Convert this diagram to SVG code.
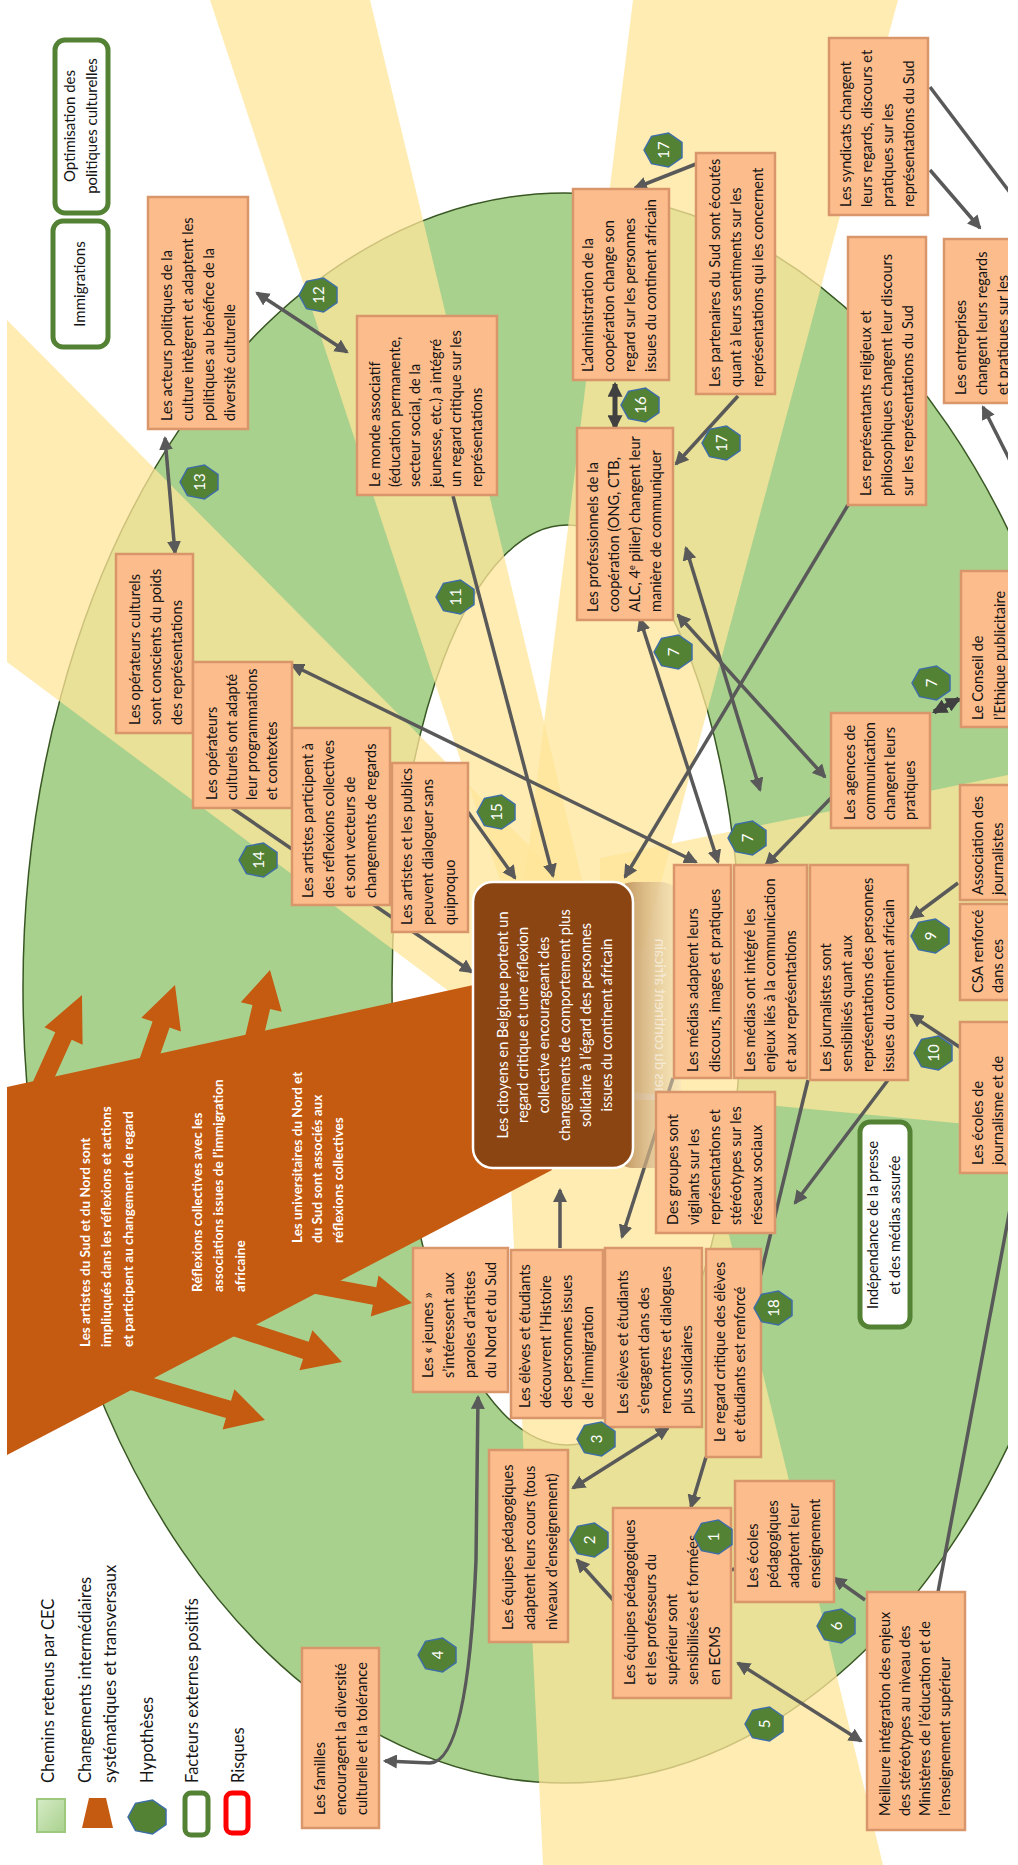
<svg xmlns="http://www.w3.org/2000/svg" width="1018" height="1865" viewBox="0 0 1018 1865">
<defs>
<style>
.box{fill:#FDBC8C;stroke:#D9966B;stroke-width:2.5}
.t{font-family:Lato,"Liberation Sans",sans-serif;font-size:14.5px;fill:#141414}
.tw{fill:#fff}
.ob{font-family:Lato,"Liberation Sans",sans-serif;font-size:13.5px;font-weight:700;fill:#fff}
.lg{font-family:Lato,"Liberation Sans",sans-serif;font-size:16.5px;fill:#141414}
.con{fill:none;stroke:#595959;stroke-width:3.5}
.thick{stroke:#404040;stroke-width:5}
.ea{marker-end:url(#ah)}
.sa{marker-start:url(#ah)}
.eat{marker-end:url(#aht)}
.sat{marker-start:url(#aht)}
.hx{fill:#548235;stroke:#3E6EA6;stroke-width:1.5}
.hn{font-family:Lato,"Liberation Sans",sans-serif;font-size:15px;fill:#fff;text-anchor:middle}
.gb{fill:#fff;stroke:#548235;stroke-width:5}
.beam{fill:#FFE699;opacity:0.75}
.or{fill:#C55A11}
.mid{text-anchor:middle}
</style>
<marker id="ah" viewBox="0 0 10 10" refX="8.5" refY="5" markerWidth="4" markerHeight="4" orient="auto-start-reverse"><path d="M0,0 L10,5 L0,10 z" fill="#595959"/></marker>
<marker id="aht" viewBox="0 0 10 10" refX="8.5" refY="5" markerWidth="3" markerHeight="3" orient="auto-start-reverse"><path d="M0,0 L10,5 L0,10 z" fill="#404040"/></marker>
<polygon id="hept" points="-19,0 -11.5,-13.7 5.5,-17 19,-7.6 19,7.6 5.5,17 -11.5,13.7"/>
<linearGradient id="refl" x1="0" y1="0" x2="1" y2="0"><stop offset="0" stop-color="#B07D45" stop-opacity="0.95"/><stop offset="1" stop-color="#F3E2BE" stop-opacity="0.5"/></linearGradient>
<linearGradient id="lgsq" x1="0" y1="0" x2="1" y2="1"><stop offset="0" stop-color="#D6EBC6"/><stop offset="1" stop-color="#A9D18E"/></linearGradient>
<clipPath id="clip"><rect x="7" y="0" width="1001" height="1865"/></clipPath>
</defs>
<rect width="1018" height="1865" fill="#fff"/>
<g clip-path="url(#clip)">
<g id="background">
<ellipse cx="565" cy="988" rx="542" ry="795" fill="#A9D18E" stroke="#385723" stroke-width="1.5"/>
<ellipse cx="567" cy="985" rx="175" ry="460" fill="#fff" stroke="#385723" stroke-width="1.5"/>
<polygon class="beam" points="7,320 560,877 560,1074 7,662"/>
<polygon class="beam" points="210,0 370,0 599,950 523,950"/>
<polygon class="beam" points="633,0 898,0 643,950 516,950"/>
<polygon class="beam" points="600,858 1018,773 1018,1129 600,1089"/>
<polygon class="beam" points="507,1100 696,1100 883,1865 543,1865"/>
</g>
<g id="transversal">
<polygon class="or" points="7,1087 478,984 552,1170 7,1455"/>
<polygon class="or" points="38.2,1113.7 71.7,1039.7 82.6,1044.7 82,995 44.4,1027.3 55.3,1032.3 21.8,1106.3"/>
<polygon class="or" points="148.5,1088 169.6,1027.6 180.9,1031.5 175,985 141.3,1017.7 152.6,1021.6 131.5,1082"/>
<polygon class="or" points="258.8,1057.1 270.1,1009.1 281.8,1011.8 270,970 240.8,1002.2 252.5,1004.9 241.2,1052.9"/>
<polygon class="or" points="298.3,1290.8 372.9,1304.8 370.7,1316.6 412,1303 378.5,1275.4 376.3,1287.2 301.7,1273.2"/>
<polygon class="or" points="215.6,1330.6 303.1,1358.9 299.4,1370.3 342,1362 312.4,1330.3 308.7,1341.7 221.2,1313.4"/>
<polygon class="or" points="108.9,1383.8 226,1418 222.6,1429.6 265,1420 234.4,1389.2 231,1400.8 113.9,1366.6"/>
<text class="ob" transform="translate(89.5,1347) rotate(-90)"><tspan x="0">Les artistes du Sud et du Nord sont</tspan><tspan x="0" dy="21.5">impliuqués  dans les réflexions et  actions</tspan><tspan x="0" dy="21.5">et participent au changement de regard</tspan></text>
<text class="ob" transform="translate(201.5,1292) rotate(-90)"><tspan x="0">Réflexions collectives avec les</tspan><tspan x="0" dy="21.5">associations issues  de l’immigration</tspan><tspan x="0" dy="21.5">africaine</tspan></text>
<text class="ob" transform="translate(301.5,1243) rotate(-90)"><tspan x="0">Les universitaires du  Nord et</tspan><tspan x="0" dy="20.5">du Sud sont  associés  aux</tspan><tspan x="0" dy="20.5">réflexions collectives</tspan></text>
</g>
<g id="connectors">
<path class="con ea sa" d="M257,293 L347,352"/>
<path class="con ea sa" d="M165,438 L175,553"/>
<path class="con ea" d="M453,496 L553,876"/>
<path class="con ea" d="M232,808 L472,972"/>
<path class="con ea" d="M468,812 L515,878"/>
<path class="con ea sa" d="M292,665 L696,862"/>
<path class="con thick eat sat" d="M615,384 L615,428"/>
<path class="con ea" d="M696,164 L635,188"/>
<path class="con ea" d="M738,396 L676,464"/>
<path class="con ea sa" d="M640,619 L718,862"/>
<path class="con ea" d="M848,505 L625,877"/>
<path class="con ea sa" d="M686,548 L760,790"/>
<path class="con ea sa" d="M678,615 L825,777"/>
<path class="con ea" d="M831,798 L766,865"/>
<path class="con thick eat sat" d="M934,712 L959,699"/>
<path class="con ea" d="M958,883 L911,918"/>
<path class="con ea" d="M961,1048 L911,1015"/>
<path class="con ea" d="M888,1080 L795,1203"/>
<path class="con" d="M808,1080 L757,1290"/>
<path class="con ea" d="M673,1078 L622,1237"/>
<path class="con ea" d="M560,1248 L560,1190"/>
<path class="con ea sa" d="M478,1397 L476,1560 Q468,1762 430,1763 L385,1761"/>
<path class="con ea sa" d="M573,1488 L668,1428"/>
<path class="con ea" d="M615,1602 L577,1560"/>
<path class="con ea" d="M706,1457 L691,1507"/>
<path class="con ea" d="M738,1568 L706,1577"/>
<path class="con ea" d="M865,1600 L834,1578"/>
<path class="con ea sa" d="M738,1663 L861,1741"/>
<path class="con" d="M938,1592 L1040,1050"/>
<path class="con" d="M930,87 L1040,232"/>
<path class="con ea" d="M930,170 L980,228"/>
<path class="con ea" d="M1040,520 L983,407"/>
</g>
<g id="n-reflet">
<rect x="613" y="882" width="68" height="286" rx="20" fill="url(#refl)"/>
<g transform="translate(1266,0) scale(-1,1)" opacity="0.55"><text class="t tw mid" transform="translate(611.5,1025) rotate(-90)">issues du  continent africain</text></g>
</g>
<g id="n-central">
<rect x="473" y="882" width="160" height="286" rx="20" fill="#8B4513" stroke="#fff" stroke-width="2.5"/>
<text class="t tw mid" transform="translate(507.5,1025) rotate(-90)"><tspan x="0">Les citoyens en Belgique portent un</tspan><tspan x="0" dy="20.8">regard critique et une réflexion</tspan><tspan x="0" dy="20.8">collective encourageant des</tspan><tspan x="0" dy="20.8">changements  de comportement  plus</tspan><tspan x="0" dy="20.8">solidaire à l’égard des personnes</tspan><tspan x="0" dy="20.8">issues du  continent africain</tspan></text>
</g>
<g id="n-optimisation"><rect class="gb" x="55" y="40" width="53" height="173" rx="10"/><text class="t mid" transform="translate(74.5,126) rotate(-90)" style="font-size:15px"><tspan x="0">Optimisation des</tspan><tspan x="0" dy="22">politiques culturelles</tspan></text></g>
<g id="n-immigrations"><rect class="gb" x="53" y="221" width="55" height="126" rx="10"/><text class="t mid" transform="translate(85,284) rotate(-90)" style="font-size:15px">Immigrations</text></g>
<g id="n-independance"><rect class="gb" x="860" y="1122" width="50" height="205" rx="10"/><text class="t mid" transform="translate(877.5,1225) rotate(-90)"><tspan x="0">Indépendance  de la presse</tspan><tspan x="0" dy="22">et des médias assurée</tspan></text></g>
<g id="n-acteurs"><rect class="box" x="148" y="197" width="100" height="232"/><text class="t" transform="translate(171.5,421) rotate(-90)"><tspan x="0">Les acteurs politiques de la</tspan><tspan x="0" dy="21">culture intègrent  et adaptent  les</tspan><tspan x="0" dy="21">politiques au bénéfice  de la</tspan><tspan x="0" dy="21">diversité culturelle</tspan></text></g>
<g id="n-monde"><rect class="box" x="357" y="316" width="140" height="179"/><text class="t" transform="translate(379.5,487) rotate(-90)"><tspan x="0">Le monde associatif</tspan><tspan x="0" dy="20.4">(éducation permanente,</tspan><tspan x="0" dy="20.4">secteur social, de la</tspan><tspan x="0" dy="20.4">jeunesse, etc.)  a intégré</tspan><tspan x="0" dy="20.4">un regard critique sur les</tspan><tspan x="0" dy="20.4">représentations</tspan></text></g>
<g id="n-administration"><rect class="box" x="573" y="189" width="96" height="191"/><text class="t" transform="translate(592.5,372) rotate(-90)"><tspan x="0">L’administration de la</tspan><tspan x="0" dy="21.3">coopération change son</tspan><tspan x="0" dy="21.3">regard sur les personnes</tspan><tspan x="0" dy="21.3">issues du  continent africain</tspan></text></g>
<g id="n-professionnels"><rect class="box" x="577" y="428" width="96" height="192"/><text class="t" transform="translate(597.5,612) rotate(-90)"><tspan x="0">Les professionnels  de la</tspan><tspan x="0" dy="21.3">coopération (ONG, CTB,</tspan><tspan x="0" dy="21.3">ALC, 4<tspan baseline-shift="super" font-size="9">e</tspan> pilier) changent leur</tspan><tspan x="0" dy="21.3">manière de communiquer</tspan></text></g>
<g id="n-partenaires"><rect class="box" x="696" y="153" width="79" height="241"/><text class="t" transform="translate(719.5,387) rotate(-90)"><tspan x="0">Les partenaires du Sud sont écoutés</tspan><tspan x="0" dy="21.5">quant à leurs sentiments sur les</tspan><tspan x="0" dy="21.5">représentations qui les concernent</tspan></text></g>
<g id="n-syndicats"><rect class="box" x="829" y="38" width="99" height="177"/><text class="t" transform="translate(850.5,207) rotate(-90)"><tspan x="0">Les syndicats changent</tspan><tspan x="0" dy="21.3">leurs regards, discours et</tspan><tspan x="0" dy="21.3">pratiques sur les</tspan><tspan x="0" dy="21.3">représentations du Sud</tspan></text></g>
<g id="n-religieux"><rect class="box" x="848" y="237" width="78" height="268"/><text class="t" transform="translate(870.5,496) rotate(-90)"><tspan x="0">Les représentants religieux et</tspan><tspan x="0" dy="21">philosophiques  changent leur discours</tspan><tspan x="0" dy="21">sur les représentations du Sud</tspan></text></g>
<g id="n-entreprises"><rect class="box" x="944" y="239" width="90" height="164"/><text class="t" transform="translate(965.5,395) rotate(-90)"><tspan x="0">Les entreprises</tspan><tspan x="0" dy="21">changent leurs regards</tspan><tspan x="0" dy="21">et pratiques sur les</tspan></text></g>
<g id="n-conseil"><rect class="box" x="961" y="571" width="70" height="156"/><text class="t" transform="translate(982.5,720) rotate(-90)"><tspan x="0">Le Conseil  de</tspan><tspan x="0" dy="22">l’Ethique publicitaire</tspan></text></g>
<g id="n-association"><rect class="box" x="960" y="785" width="70" height="115"/><text class="t" transform="translate(982.5,895) rotate(-90)"><tspan x="0">Association des</tspan><tspan x="0" dy="20">journalistes</tspan></text></g>
<g id="n-csa"><rect class="box" x="960" y="904" width="70" height="96"/><text class="t" transform="translate(982.5,993) rotate(-90)"><tspan x="0">CSA renforcé</tspan><tspan x="0" dy="20">dans ces</tspan></text></g>
<g id="n-ecoles-journalisme"><rect class="box" x="960" y="1022" width="70" height="151"/><text class="t" transform="translate(982.5,1165) rotate(-90)"><tspan x="0">Les écoles  de</tspan><tspan x="0" dy="20">journalisme et de</tspan></text></g>
<g id="n-agences"><rect class="box" x="831" y="713" width="99" height="115"/><text class="t" transform="translate(854.5,820) rotate(-90)"><tspan x="0">Les agences de</tspan><tspan x="0" dy="20.3">communication</tspan><tspan x="0" dy="20.3">changent leurs</tspan><tspan x="0" dy="20.3">pratiques</tspan></text></g>
<g id="n-operateurs-conscients"><rect class="box" x="116" y="554" width="77" height="179"/><text class="t" transform="translate(139.5,725) rotate(-90)"><tspan x="0">Les opérateurs culturels</tspan><tspan x="0" dy="21">sont conscients du poids</tspan><tspan x="0" dy="21">des représentations</tspan></text></g>
<g id="n-operateurs-adapte"><rect class="box" x="193" y="662" width="99" height="146"/><text class="t" transform="translate(216.5,800) rotate(-90)"><tspan x="0">Les opérateurs</tspan><tspan x="0" dy="20.3">culturels ont adapté</tspan><tspan x="0" dy="20.3">leur programmations</tspan><tspan x="0" dy="20.3">et contextes</tspan></text></g>
<g id="n-artistes-participent"><rect class="box" x="292" y="728" width="98" height="177"/><text class="t" transform="translate(312.5,898) rotate(-90)"><tspan x="0">Les artistes participent à</tspan><tspan x="0" dy="21.3">des réflexions collectives</tspan><tspan x="0" dy="21.3">et sont vecteurs de</tspan><tspan x="0" dy="21.3">changements  de regards</tspan></text></g>
<g id="n-artistes-publics"><rect class="box" x="392" y="763" width="76" height="169"/><text class="t" transform="translate(411.5,925) rotate(-90)"><tspan x="0">Les artistes et les publics</tspan><tspan x="0" dy="21.5">peuvent dialoguer sans</tspan><tspan x="0" dy="21.5">quiproquo</tspan></text></g>
<g id="n-medias-adaptent"><rect class="box" x="674" y="865" width="57" height="213"/><text class="t" transform="translate(697.5,1072) rotate(-90)"><tspan x="0">Les médias  adaptent leurs</tspan><tspan x="0" dy="22">discours,  images et pratiques</tspan></text></g>
<g id="n-medias-integre"><rect class="box" x="734" y="865" width="73" height="213"/><text class="t" transform="translate(754.5,1072) rotate(-90)"><tspan x="0">Les médias  ont intégré les</tspan><tspan x="0" dy="20.5">enjeux liés à la communication</tspan><tspan x="0" dy="20.5">et aux représentations</tspan></text></g>
<g id="n-journalistes"><rect class="box" x="810" y="865" width="98" height="215"/><text class="t" transform="translate(830.5,1072) rotate(-90)"><tspan x="0">Les journalistes sont</tspan><tspan x="0" dy="21.3">sensibilisés quant aux</tspan><tspan x="0" dy="21.3">représentations des personnes</tspan><tspan x="0" dy="21.3">issues du  continent africain</tspan></text></g>
<g id="n-groupes"><rect class="box" x="656" y="1092" width="119" height="141"/><text class="t" transform="translate(677.5,1225) rotate(-90)"><tspan x="0">Des groupes sont</tspan><tspan x="0" dy="21">vigilants sur les</tspan><tspan x="0" dy="21">représentations et</tspan><tspan x="0" dy="21">stéréotypes sur les</tspan><tspan x="0" dy="21">réseaux sociaux</tspan></text></g>
<g id="n-jeunes"><rect class="box" x="413" y="1248" width="95" height="144"/><text class="t" transform="translate(432.5,1378) rotate(-90)"><tspan x="0">Les « jeunes »</tspan><tspan x="0" dy="21.3">s’intéressent aux</tspan><tspan x="0" dy="21.3">paroles d’artistes</tspan><tspan x="0" dy="21.3">du Nord et du Sud</tspan></text></g>
<g id="n-eleves-decouvrent"><rect class="box" x="511" y="1250" width="92" height="168"/><text class="t" transform="translate(529.5,1408) rotate(-90)"><tspan x="0">Les élèves et étudiants</tspan><tspan x="0" dy="21">découvrent l’Histoire</tspan><tspan x="0" dy="21">des personnes issues</tspan><tspan x="0" dy="21">de l’immigration</tspan></text></g>
<g id="n-eleves-engagent"><rect class="box" x="605" y="1248" width="97" height="179"/><text class="t" transform="translate(627.5,1414) rotate(-90)"><tspan x="0">Les élèves et étudiants</tspan><tspan x="0" dy="21.5">s’engagent dans des</tspan><tspan x="0" dy="21.5">rencontres et dialogues</tspan><tspan x="0" dy="21.5">plus solidaires</tspan></text></g>
<g id="n-regard"><rect class="box" x="706" y="1249" width="55" height="208"/><text class="t" transform="translate(724.5,1442) rotate(-90)"><tspan x="0">Le regard critique des élèves</tspan><tspan x="0" dy="20">et étudiants est renforcé</tspan></text></g>
<g id="n-familles"><rect class="box" x="302" y="1648" width="77" height="180"/><text class="t" transform="translate(324.5,1815) rotate(-90)"><tspan x="0">Les familles</tspan><tspan x="0" dy="21">encouragent la diversité</tspan><tspan x="0" dy="21">culturelle et la tolérance</tspan></text></g>
<g id="n-equipes-cours"><rect class="box" x="489" y="1450" width="79" height="192"/><text class="t" transform="translate(512.5,1630) rotate(-90)"><tspan x="0">Les équipes  pédagogiques</tspan><tspan x="0" dy="22">adaptent leurs cours (tous</tspan><tspan x="0" dy="22">niveaux d’enseignement)</tspan></text></g>
<g id="n-equipes-profs"><rect class="box" x="613" y="1508" width="118" height="190"/><text class="t" transform="translate(634.5,1685) rotate(-90)"><tspan x="0">Les équipes pédagogiques</tspan><tspan x="0" dy="21.3">et les professeurs du</tspan><tspan x="0" dy="21.3">supérieur sont</tspan><tspan x="0" dy="21.3">sensibilisées et formées</tspan><tspan x="0" dy="21.3">en ECMS</tspan></text></g>
<g id="n-ecoles-peda"><rect class="box" x="735" y="1481" width="99" height="121"/><text class="t" transform="translate(757.5,1588) rotate(-90)"><tspan x="0">Les écoles</tspan><tspan x="0" dy="20.7">pédagogiques</tspan><tspan x="0" dy="20.7">adaptent leur</tspan><tspan x="0" dy="20.7">enseignement</tspan></text></g>
<g id="n-meilleure"><rect class="box" x="867" y="1592" width="98" height="238"/><text class="t" transform="translate(889.5,1816) rotate(-90)"><tspan x="0">Meilleure intégration des enjeux</tspan><tspan x="0" dy="20.3">des stéréotypes au niveau des</tspan><tspan x="0" dy="20.3">Ministères de l’éducation et de</tspan><tspan x="0" dy="20.3">l’enseignement supérieur</tspan></text></g>
<g id="h1"><use href="#hept" class="hx" transform="translate(713,1537)"/><text class="hn" transform="translate(718.5,1537) rotate(-90)">1</text></g>
<g id="h2"><use href="#hept" class="hx" transform="translate(589,1540)"/><text class="hn" transform="translate(594.5,1540) rotate(-90)">2</text></g>
<g id="h3"><use href="#hept" class="hx" transform="translate(596,1439)"/><text class="hn" transform="translate(601.5,1439) rotate(-90)">3</text></g>
<g id="h4"><use href="#hept" class="hx" transform="translate(437,1655)"/><text class="hn" transform="translate(442.5,1655) rotate(-90)">4</text></g>
<g id="h5"><use href="#hept" class="hx" transform="translate(764,1724)"/><text class="hn" transform="translate(769.5,1724) rotate(-90)">5</text></g>
<g id="h6"><use href="#hept" class="hx" transform="translate(836,1626)"/><text class="hn" transform="translate(841.5,1626) rotate(-90)">6</text></g>
<g id="h7a"><use href="#hept" class="hx" transform="translate(673,652)"/><text class="hn" transform="translate(678.5,652) rotate(-90)">7</text></g>
<g id="h7b"><use href="#hept" class="hx" transform="translate(747,838)"/><text class="hn" transform="translate(752.5,838) rotate(-90)">7</text></g>
<g id="h7c"><use href="#hept" class="hx" transform="translate(931,683)"/><text class="hn" transform="translate(936.5,683) rotate(-90)">7</text></g>
<g id="h9"><use href="#hept" class="hx" transform="translate(930,936)"/><text class="hn" transform="translate(935.5,936) rotate(-90)">9</text></g>
<g id="h10"><use href="#hept" class="hx" transform="translate(933,1053)"/><text class="hn" transform="translate(938.5,1053) rotate(-90)">10</text></g>
<g id="h11"><use href="#hept" class="hx" transform="translate(455,597)"/><text class="hn" transform="translate(460.5,597) rotate(-90)">11</text></g>
<g id="h12"><use href="#hept" class="hx" transform="translate(318,295)"/><text class="hn" transform="translate(323.5,295) rotate(-90)">12</text></g>
<g id="h13"><use href="#hept" class="hx" transform="translate(199,482)"/><text class="hn" transform="translate(204.5,482) rotate(-90)">13</text></g>
<g id="h14"><use href="#hept" class="hx" transform="translate(258,860)"/><text class="hn" transform="translate(263.5,860) rotate(-90)">14</text></g>
<g id="h15"><use href="#hept" class="hx" transform="translate(496,812)"/><text class="hn" transform="translate(501.5,812) rotate(-90)">15</text></g>
<g id="h16"><use href="#hept" class="hx" transform="translate(640,405)"/><text class="hn" transform="translate(645.5,405) rotate(-90)">16</text></g>
<g id="h17a"><use href="#hept" class="hx" transform="translate(663,150)"/><text class="hn" transform="translate(668.5,150) rotate(-90)">17</text></g>
<g id="h17b"><use href="#hept" class="hx" transform="translate(721,443)"/><text class="hn" transform="translate(726.5,443) rotate(-90)">17</text></g>
<g id="h18"><use href="#hept" class="hx" transform="translate(773,1308)"/><text class="hn" transform="translate(778.5,1308) rotate(-90)">18</text></g>
<g id="legend">
<rect x="37" y="1799" width="28" height="33" fill="url(#lgsq)" stroke="#9CC97E" stroke-width="2"/>
<polygon class="or" points="89,1798 106,1798 113,1828 82,1828"/>
<use href="#hept" class="hx" transform="translate(147,1817)"/>
<rect class="gb" x="185" y="1793" width="23" height="42" rx="6"/>
<rect x="226" y="1793" width="22" height="40" rx="6" fill="#fff" stroke="#FF0000" stroke-width="5"/>
<text class="lg" transform="translate(54,1783) rotate(-90)">Chemins retenus par CEC</text>
<text class="lg" transform="translate(91,1783) rotate(-90)"><tspan x="0">Changements intermédiaires</tspan><tspan x="0" dy="25">systématiques et transversaux</tspan></text>
<text class="lg" transform="translate(153,1783) rotate(-90)">Hypothèses</text>
<text class="lg" transform="translate(198,1783) rotate(-90)">Facteurs externes  positifs</text>
<text class="lg" transform="translate(244,1783) rotate(-90)">Risques</text>
</g>
</g>
</svg>
